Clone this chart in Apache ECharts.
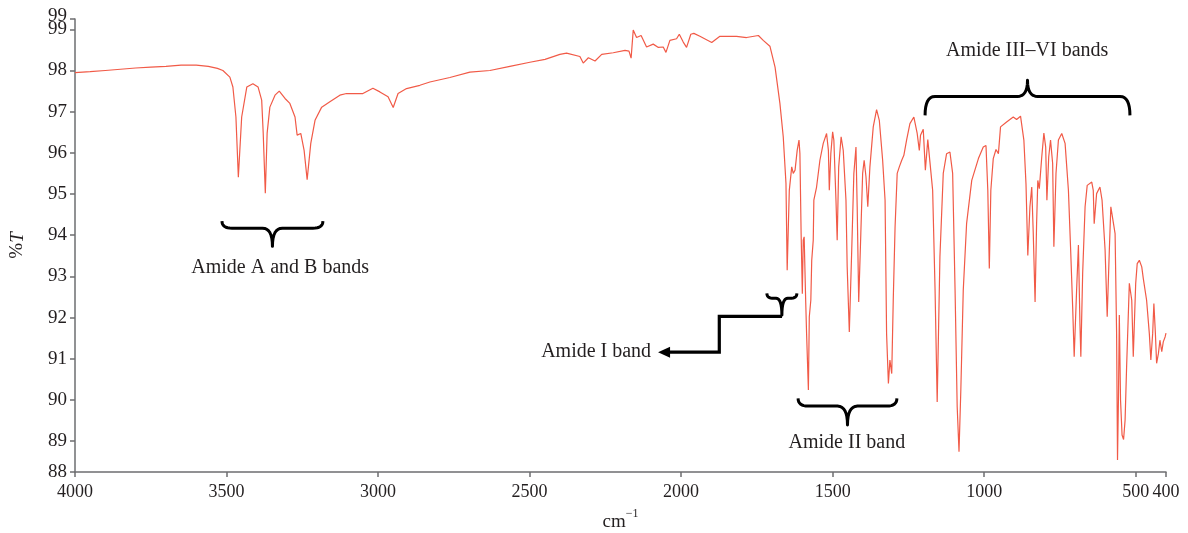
<!DOCTYPE html>
<html>
<head>
<meta charset="utf-8">
<title>FTIR spectrum</title>
<script src="https://cdn.jsdelivr.net/npm/echarts@6/dist/echarts.min.js"></script>
<style>
  html, body { margin: 0; padding: 0; background: #fff; }
  #chart { width: 1188px; height: 533px; }
</style>
</head>
<body>
<div id="chart"></div>
<script>
// wavenumber (cm-1) and %T
const wavenumbers = [
  4000, 3950, 3900, 3850, 3800, 3750, 3700, 3650, 3600, 3560,
  3530, 3512, 3489, 3479, 3469, 3461, 3450, 3433, 3413, 3396,
  3384, 3379, 3372, 3366, 3357, 3340, 3326, 3307, 3291, 3274,
  3267, 3255, 3244, 3234, 3222, 3208, 3186, 3159, 3126, 3104,
  3050, 3017, 2994, 2967, 2950, 2934, 2906, 2862, 2829, 2763,
  2697, 2631, 2565, 2499, 2449, 2400, 2378, 2334, 2323, 2306,
  2284, 2262, 2224, 2185, 2172, 2165, 2158, 2147, 2132, 2114,
  2092, 2075, 2059, 2050, 2037, 2015, 2006, 1993, 1982, 1968,
  1958, 1938, 1899, 1872, 1817, 1784, 1745, 1729, 1707, 1690,
  1674, 1663, 1654, 1650, 1643, 1635, 1630, 1624, 1617, 1611,
  1608, 1604, 1600, 1597, 1594, 1589, 1586, 1580, 1577, 1572,
  1569, 1564, 1562, 1553, 1542, 1531, 1520, 1514, 1511, 1506,
  1500, 1496, 1489, 1485, 1480, 1472, 1465, 1456, 1452, 1445,
  1437, 1430, 1423, 1419, 1414, 1407, 1401, 1396, 1390, 1384,
  1377, 1366, 1355, 1346, 1335, 1327, 1322, 1316, 1311, 1305,
  1300, 1294, 1287, 1280, 1272, 1265, 1256, 1245, 1232, 1221,
  1214, 1210, 1201, 1194, 1186, 1179, 1170, 1162, 1155, 1146,
  1135, 1124, 1113, 1104, 1096, 1089, 1083, 1077, 1069, 1058,
  1041, 1019, 1003, 994, 988, 983, 978, 970, 961, 953,
  946, 926, 904, 893, 880, 869, 862, 856, 849, 843,
  838, 832, 827, 823, 818, 810, 803, 797, 793, 787,
  781, 774, 770, 763, 755, 744, 733, 722, 715, 708,
  703, 695, 689, 684, 681, 675, 667, 660, 645, 640,
  637, 629, 618, 611, 601, 594, 587, 582, 576, 568,
  563, 560, 557, 554, 550, 545, 540, 535, 530, 521,
  513, 508, 500, 495, 488, 480, 475, 464, 455, 450,
  444, 440, 435, 431, 425, 420, 414, 409, 403, 400
];
const transmittance = [
  97.95, 97.97, 98.00, 98.03, 98.06, 98.08, 98.10, 98.13, 98.13, 98.10,
  98.05, 98.00, 97.84, 97.60, 96.87, 95.41, 96.87, 97.60, 97.68, 97.60,
  97.28, 96.48, 95.02, 96.48, 97.11, 97.40, 97.50, 97.32, 97.20, 96.87,
  96.43, 96.47, 96.06, 95.35, 96.23, 96.79, 97.11, 97.24, 97.40, 97.44,
  97.44, 97.57, 97.48, 97.36, 97.10, 97.44, 97.56, 97.64, 97.72, 97.83,
  97.96, 98.00, 98.10, 98.20, 98.27, 98.39, 98.42, 98.34, 98.18, 98.31,
  98.23, 98.39, 98.43, 98.49, 98.47, 98.30, 98.98, 98.80, 98.85, 98.57,
  98.64, 98.56, 98.57, 98.44, 98.73, 98.77, 98.88, 98.69, 98.56, 98.88,
  98.90, 98.83, 98.68, 98.83, 98.83, 98.80, 98.85, 98.73, 98.59, 98.08,
  97.20, 96.39, 95.26, 93.15, 95.09, 95.66, 95.50, 95.58, 96.06, 96.31,
  95.98, 94.04, 92.58, 93.88, 93.96, 92.42, 91.62, 90.24, 92.02, 92.42,
  93.39, 93.88, 94.85, 95.17, 95.82, 96.23, 96.47, 96.06, 95.09, 95.98,
  96.51, 96.31, 94.85, 93.88, 95.66, 96.39, 96.06, 94.85, 93.23, 91.65,
  93.64, 95.50, 96.14, 94.69, 92.38, 94.04, 95.50, 95.82, 95.42, 94.69,
  95.66, 96.63, 97.05, 96.79, 95.82, 94.85, 91.61, 90.40, 90.97, 90.64,
  92.42, 94.20, 95.50, 95.66, 95.82, 95.94, 96.31, 96.71, 96.87, 96.47,
  96.06, 96.43, 96.57, 95.58, 96.32, 95.78, 95.09, 92.66, 89.95, 93.47,
  95.50, 95.98, 96.02, 95.50, 92.66, 89.83, 88.74, 90.24, 92.66, 94.28,
  95.33, 95.86, 96.14, 96.18, 95.09, 93.19, 95.09, 95.86, 96.08, 95.98,
  96.63, 96.75, 96.87, 96.81, 96.89, 96.31, 95.25, 93.51, 94.69, 95.17,
  94.04, 92.38, 94.28, 95.33, 95.13, 95.90, 96.48, 96.14, 94.85, 95.90,
  96.31, 95.74, 93.72, 95.50, 96.31, 96.47, 96.23, 95.09, 93.72, 92.26,
  91.05, 92.66, 93.76, 91.86, 91.05, 93.07, 94.69, 95.21, 95.29, 95.09,
  94.28, 95.01, 95.17, 94.85, 93.64, 92.02, 93.64, 94.69, 94.73, 94.04,
  91.61, 88.54, 89.99, 92.06, 89.99, 89.15, 89.04, 89.51, 90.80, 92.83,
  92.42, 91.05, 92.83, 93.31, 93.39, 93.23, 92.95, 92.42, 91.61, 90.97,
  91.61, 92.34, 91.61, 90.89, 91.13, 91.45, 91.17, 91.41, 91.53, 91.62
];

const xTicks = [4000, 3500, 3000, 2500, 2000, 1500, 1000, 500, 400];
const yTicks = [88.25, 89, 90, 91, 92, 93, 94, 95, 96, 97, 98, 99, 99.25];
const yMax = yTicks[yTicks.length - 1];
// the axis top (99.25) is labelled "99" too, drawn a little above
const yLabelValues = yTicks.slice(0, -1);

// brace annotations: [from, to] in cm-1, baseline / end / tip in %T
const braceLabels = ['Amide A and B bands', 'Amide III\u2013VI bands', 'Amide II band', 'Amide I band'];
const braceSpans = [[3515, 3182], [1195, 519], [1614, 1288], [1717, 1618]];
const braceLevels = [[94.17, 94.34, 93.73], [97.37, 96.91, 97.76], [89.85, 90.04, 89.39], [92.47, 92.59, 92.06]];
const labelAnchors = [[3323, 93.20], [858, 98.49], [1453, 88.95], [2099, 91.16]];
// elbow arrow from Amide I brace to its label
const arrowPath = [[1667, 92.03], [1874, 92.03], [1874, 91.16], [2076, 91.16]];

const FONT = '"Liberation Serif", "DejaVu Serif", serif';
const INK = '#231f20';
const AXIS = '#6d6e70';

const chart = echarts.init(document.getElementById('chart'));

const seriesData = wavenumbers.map((w, i) => [w, transmittance[i]]);

chart.setOption({
  animation: false,
  backgroundColor: '#fff',
  grid: { left: 75, right: 22, top: 19, bottom: 61, outerBoundsMode: 'none', containLabel: false },
  xAxis: {
    type: 'value',
    inverse: true,
    min: 400,
    max: 4000,
    name: '{a|cm}{b|\u22121}',
    nameLocation: 'middle',
    nameGap: 36,
    nameTextStyle: {
      rich: {
        a: { fontFamily: FONT, fontSize: 19, color: INK, lineHeight: 24, verticalAlign: 'bottom' },
        b: { fontFamily: FONT, fontSize: 12, color: INK, lineHeight: 24, verticalAlign: 'top' }
      }
    },
    axisLine: { show: true, lineStyle: { color: AXIS, width: 1.5 } },
    axisTick: { show: true, length: 5, customValues: xTicks, lineStyle: { color: AXIS, width: 1.5 } },
    axisLabel: {
      customValues: xTicks,
      fontFamily: FONT,
      fontSize: 18,
      color: INK,
      margin: 11,
      formatter: (v) => String(v)
    },
    splitLine: { show: false }
  },
  yAxis: {
    type: 'value',
    min: yTicks[0],
    max: yMax,
    name: '{p|%}{t|T}',
    nameLocation: 'middle',
    nameRotate: 90,
    nameGap: 48,
    nameTextStyle: {
      rich: {
        p: { fontFamily: FONT, fontSize: 19, color: INK },
        t: { fontFamily: FONT, fontSize: 19, color: INK, fontStyle: 'italic' }
      }
    },
    axisLine: { show: true, lineStyle: { color: AXIS, width: 1.5 } },
    axisTick: { show: true, length: 5, customValues: yTicks, lineStyle: { color: AXIS, width: 1.5 } },
    axisLabel: {
      customValues: yLabelValues,
      showMaxLabel: true,
      showMinLabel: true,
      hideOverlap: false,
      fontFamily: FONT,
      fontSize: 19,
      color: INK,
      margin: 8,
      formatter: (v) => String(Math.round(v))
    },
    splitLine: { show: false }
  },
  series: [{
    type: 'line',
    data: seriesData,
    showSymbol: false,
    lineStyle: { color: '#f15a47', width: 1.2 },
    itemStyle: { color: '#f15a47' },
    z: 3
  }]
});

const px = (w, t) => chart.convertToPixel({ gridIndex: 0 }, [w, t]);

// sampled quadratic curve
const quad = (p0, c, p1, n) => {
  const out = [];
  for (let i = 1; i <= n; i++) {
    const s = i / n;
    out.push([
      (1 - s) * (1 - s) * p0[0] + 2 * (1 - s) * s * c[0] + s * s * p1[0],
      (1 - s) * (1 - s) * p0[1] + 2 * (1 - s) * s * c[1] + s * s * p1[1]
    ]);
  }
  return out;
};

const bracePoints = (span, levels) => {
  const a = px(span[0], levels[0]);
  const b = px(span[1], levels[0]);
  const yBase = a[1];
  const yEnd = px(span[0], levels[1])[1];
  const yTip = px(span[0], levels[2])[1];
  const x1 = a[0], x2 = b[0], xm = (x1 + x2) / 2;
  const r = Math.min(10, (x2 - x1) / 5);
  let pts = [[x1, yEnd]];
  pts = pts.concat(quad([x1, yEnd], [x1, yBase], [x1 + r, yBase], 8));
  pts.push([xm - r, yBase]);
  pts = pts.concat(quad([xm - r, yBase], [xm, yBase], [xm, yTip], 8));
  pts = pts.concat(quad([xm, yTip], [xm, yBase], [xm + r, yBase], 8));
  pts.push([x2 - r, yBase]);
  pts = pts.concat(quad([x2 - r, yBase], [x2, yBase], [x2, yEnd], 8));
  return pts;
};

const textStyle = (text, align, size) => ({
  text: text,
  font: size + 'px ' + FONT,
  fill: INK,
  textAlign: align,
  textVerticalAlign: 'middle',
  align: align,
  verticalAlign: 'middle'
});

const graphics = [];
braceSpans.forEach((span, i) => {
  graphics.push({
    type: 'polyline',
    shape: { points: bracePoints(span, braceLevels[i]) },
    style: { stroke: '#000', lineWidth: 3, fill: null, lineJoin: 'round' },
    z: 10
  });
  const p = px(labelAnchors[i][0], labelAnchors[i][1]);
  const last = i === braceLabels.length - 1;
  graphics.push({
    type: 'text',
    x: p[0],
    y: p[1],
    style: textStyle(braceLabels[i], last ? 'right' : 'center', 20),
    z: 10
  });
});

const arrowPts = arrowPath.map((d) => px(d[0], d[1]));
graphics.push({
  type: 'polyline',
  shape: { points: arrowPts.slice(0, -1).concat([[arrowPts[3][0] + 8, arrowPts[3][1]]]) },
  style: { stroke: '#000', lineWidth: 3.2, fill: null },
  z: 10
});
const tip = arrowPts[3];
graphics.push({
  type: 'polygon',
  shape: { points: [[tip[0], tip[1]], [tip[0] + 12, tip[1] - 5.5], [tip[0] + 12, tip[1] + 5.5]] },
  style: { fill: '#000' },
  z: 10
});

// label for the axis top
const topPt = px(4000, yMax);
graphics.push({
  type: 'text',
  x: topPt[0] - 8,
  y: topPt[1] - 3,
  style: textStyle(String(Math.round(yMax)), 'right', 19),
  z: 10
});

chart.setOption({ graphic: graphics });
</script>
</body>
</html>
